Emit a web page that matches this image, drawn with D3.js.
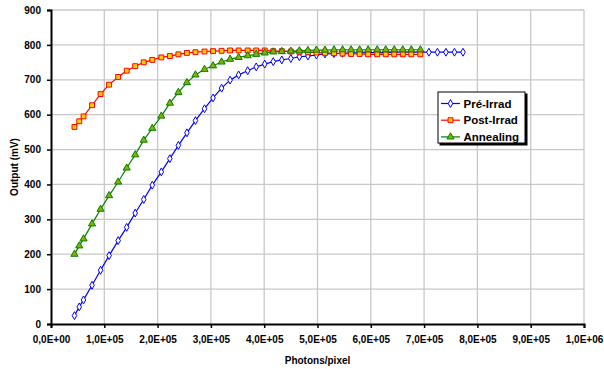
<!DOCTYPE html>
<html>
<head>
<meta charset="utf-8">
<script src="https://cdn.jsdelivr.net/npm/d3@7"></script>
<style>
  body { margin: 0; background: #fff; }
  text { font-family: "Liberation Sans", Arial, sans-serif; font-weight: bold; }
</style>
</head>
<body>
<script>
var svg_width = 604;
var svg_height = 369;

// photons/pixel values of each measurement
var photons = [44000, 53000, 61000, 77000, 93000, 109000, 126000, 142000, 158000, 174000,
  190000, 207000, 223000, 239000, 255000, 271000, 288000, 304000, 320000, 336000,
  352000, 369000, 385000, 401000, 417000, 433000, 450000, 466000, 482000, 498000,
  514000, 531000, 547000, 563000, 579000, 595000, 612000, 628000, 644000, 660000,
  676000, 693000, 709000, 725000, 741000, 757000, 773000];

var preIrrad = [24, 49, 69, 111, 154, 196, 239, 277, 318, 357,
  398, 436, 474, 512, 548, 583, 617, 648, 676, 699,
  714, 726, 737, 745, 752, 757, 761, 766, 768, 771,
  774, 775, 776, 777, 777, 778, 778, 778, 779, 779,
  779, 779, 779, 779, 779, 779, 779];

var postIrrad = [565, 581, 595, 627, 659, 686, 708, 726, 739, 750,
  757, 764, 768, 773, 777, 779, 781, 782, 783, 784,
  784, 784, 784, 784, 782, 782, 781, 780, 779, 778,
  777, 776, 775, 774, 774, 773, 773, 773, 773, 773,
  773, 773];

var annealing = [200, 224, 244, 287, 329, 368, 407, 447, 485, 527,
  561, 596, 633, 664, 692, 714, 730, 740, 751, 759,
  764, 769, 773, 777, 780, 781, 782, 783, 784, 785,
  785, 786, 786, 786, 786, 786, 786, 786, 786, 786,
  786, 786];

var seriesNames = ['Pré-Irrad', 'Post-Irrad', 'Annealing'];

var xTicks = [0, 100000, 200000, 300000, 400000, 500000, 600000, 700000, 800000, 900000, 1000000];
var xTickLabels = ['0,0E+00', '1,0E+05', '2,0E+05', '3,0E+05', '4,0E+05', '5,0E+05',
  '6,0E+05', '7,0E+05', '8,0E+05', '9,0E+05', '1,0E+06'];
var yTicks = [0, 100, 200, 300, 400, 500, 600, 700, 800, 900];

var series = [
  {name: seriesNames[0], values: preIrrad, color: '#0000ff', fill: '#ffffff', symbol: d3.symbolDiamond, size: 18},
  {name: seriesNames[1], values: postIrrad, color: '#ff0000', fill: '#ffcc00', symbol: d3.symbolSquare, size: 24},
  {name: seriesNames[2], values: annealing, color: '#008000', fill: '#88b000', symbol: d3.symbolTriangle, size: 22}
];

var svg = d3.select('body').append('svg')
  .attr('width', svg_width)
  .attr('height', svg_height);

var xscale = d3.scaleLinear().domain([0, 1000000]).range([51, 584]);
var yscale = d3.scaleLinear().domain([0, 900]).range([324, 10]);

// grid
svg.append('g').selectAll('line').data(yTicks.slice(1)).enter().append('line')
  .attr('x1', xscale(0)).attr('x2', xscale(1000000))
  .attr('y1', function(d) { return yscale(d); }).attr('y2', function(d) { return yscale(d); })
  .attr('stroke', '#c8c8c8').attr('stroke-width', 1.3);
svg.append('g').selectAll('line').data(xTicks.slice(1)).enter().append('line')
  .attr('y1', yscale(0)).attr('y2', yscale(900))
  .attr('x1', function(d) { return xscale(d); }).attr('x2', function(d) { return xscale(d); })
  .attr('stroke', '#c8c8c8').attr('stroke-width', 1.3);

var xaxis = d3.axisBottom(xscale).tickValues(xTicks).tickSize(4).tickPadding(8)
  .tickFormat(function(d, i) { return xTickLabels[i]; });
var yaxis = d3.axisLeft(yscale).tickValues(yTicks).tickSize(4).tickPadding(6);

var gx = svg.append('g')
  .attr('transform', 'translate(0, ' + yscale(0) + ')')
  .call(xaxis);
var gy = svg.append('g')
  .attr('transform', 'translate(' + xscale(0) + ', 0)')
  .call(yaxis);

[gx, gy].forEach(function(g) {
  g.select('.domain').attr('stroke', '#000').attr('stroke-width', 2);
  g.selectAll('.tick line').attr('stroke', '#000').attr('stroke-width', 1.5);
  g.selectAll('.tick text').attr('fill', '#000').style('font-size', '10px')
    .style('font-family', '"Liberation Sans", Arial, sans-serif').style('font-weight', 'bold');
});

// axis titles
svg.append('text')
  .attr('x', (xscale(0) + xscale(1000000)) / 2).attr('y', 364)
  .attr('text-anchor', 'middle').style('font-size', '10px')
  .text('Photons/pixel');
svg.append('text')
  .attr('transform', 'translate(18, ' + (yscale(0) + yscale(900)) / 2 + ') rotate(-90)')
  .attr('text-anchor', 'middle').style('font-size', '10px')
  .text('Output (mV)');

var line = d3.line()
  .x(function(d, i) { return xscale(photons[i]); })
  .y(function(d) { return yscale(d); });

series.forEach(function(s) {
  svg.append('path')
    .datum(s.values)
    .attr('d', line)
    .attr('fill', 'none')
    .attr('stroke', s.color)
    .attr('stroke-width', 1.2);
});

series.forEach(function(s) {
  svg.append('g').selectAll('path').data(s.values).enter().append('path')
    .attr('d', d3.symbol().type(s.symbol).size(s.size))
    .attr('transform', function(d, i) {
      return 'translate(' + xscale(photons[i]) + ',' + yscale(d) + ')';
    })
    .attr('fill', s.fill)
    .attr('stroke', s.color)
    .attr('stroke-width', 1);
});

// legend
var legend = svg.append('g').attr('transform', 'translate(438, 92)');
legend.append('rect')
  .attr('x', 1.5).attr('y', 1.5).attr('width', 88).attr('height', 52)
  .attr('fill', '#000');
legend.append('rect')
  .attr('x', 0).attr('y', 0).attr('width', 87).attr('height', 51)
  .attr('fill', '#fff').attr('stroke', '#000').attr('stroke-width', 1);

series.forEach(function(s, i) {
  var row = legend.append('g').attr('transform', 'translate(0, ' + (11.5 + i * 16.7) + ')');
  row.append('line')
    .attr('x1', 3).attr('x2', 22).attr('y1', 0).attr('y2', 0)
    .attr('stroke', s.color).attr('stroke-width', 1.2);
  row.append('path')
    .attr('d', d3.symbol().type(s.symbol).size(s.size))
    .attr('transform', 'translate(12.5, 0)')
    .attr('fill', s.fill).attr('stroke', s.color).attr('stroke-width', 1);
  row.append('text')
    .attr('x', 25.5).attr('y', 0).attr('dy', '0.36em')
    .style('font-size', '11.5px')
    .text(s.name);
});
</script>
</body>
</html>
